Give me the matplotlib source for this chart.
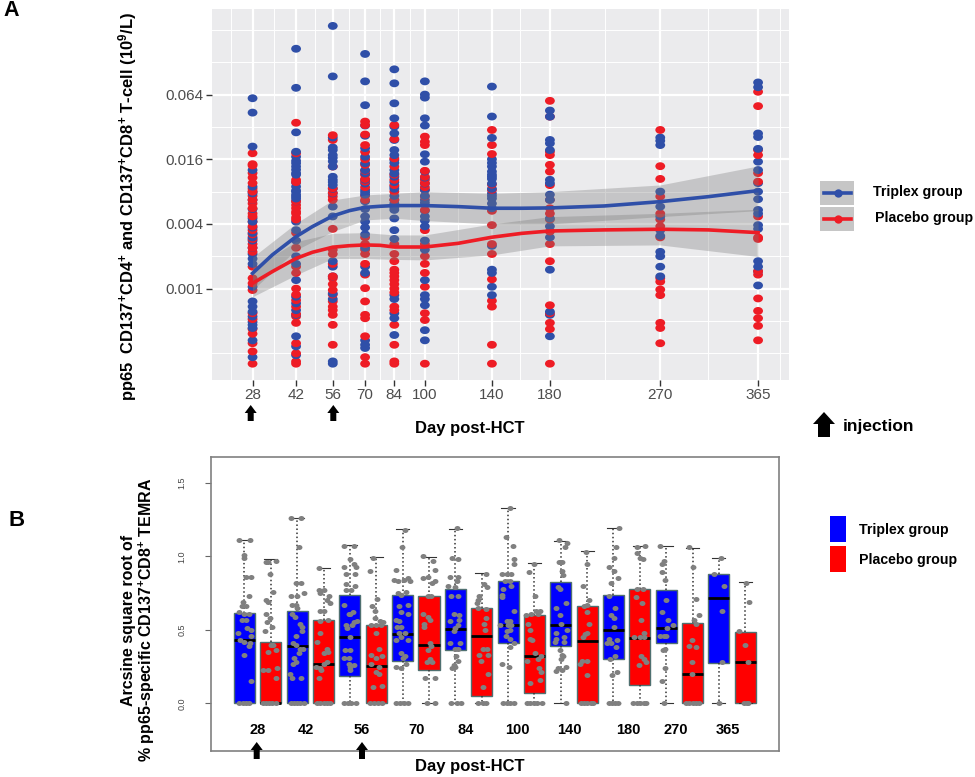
"""Two-panel figure: pp65 T-cell kinetics (A) and TEMRA boxplots (B)."""
import matplotlib
matplotlib.use("Agg")
import matplotlib.pyplot as plt
from matplotlib.markers import MarkerStyle
from matplotlib.patches import FancyArrow, Rectangle
from matplotlib.transforms import Affine2D
import numpy as np

plt.rcParams.update({
    "font.family": "Liberation Sans", "mathtext.fontset": "custom",
    "mathtext.bf": "Liberation Sans:bold", "mathtext.rm": "Liberation Sans:bold",
    "mathtext.default": "bf",
})
W, H = 975, 777
BLUE_A, RED_A = "#2F4FA8", "#EE1C25"
PANEL, RIBBON = "#EBEBED", "#7A7A7A"

# ---------------------------------------------------------------------------
# Panel A data
# ---------------------------------------------------------------------------
days = [28, 42, 56, 70, 84, 100, 140, 180, 270, 365]
minor_days = [22, 34.6, 48.8, 62.8, 76.9, 91.8, 119, 159, 222.8, 315, 388]
y_ticks = [0.001, 0.004, 0.016, 0.064]
y_minor = [0.00025, 0.0005, 0.002, 0.008, 0.032, 0.128, 0.256]

blue_pts = [
    [.0592, .0435, .021, .0127, .0089, .008, .0077, .0067, .0055, .0045, .0042, .0037, .0033, .003, .0028, .0024,
     .0021, .0019, .0017, .00104, .00076, .00068, .00061, .00055, .00049, .00046, .00043, .00033, .00023],
    [.171, .074, .0285, .0188, .0169, .0155, .0147, .0137, .0128, .0119, .0115, .0097, .0089, .0082, .008, .0075,
     .0072, .0069, .0065, .0042, .0035, .0028, .002, .0017, .0012, .00084, .00073, .00063, .00057, .00036,
     .00029, .00024],
    [.279, .0945, .0255, .0206, .0195, .0175, .0165, .0153, .0137, .011, .0103, .0098, .0092, .0085, .0077, .0058,
     .0047, .0018, .0016, .0013, .0009, .0008, .00021, .0002],
    [.153, .085, .051, .033, .0265, .0203, .0169, .0147, .0127, .0118, .0103, .0095, .0083, .0079, .0075, .0065,
     .0055, .0047, .0042, .0037, .0032, .0024, .0016, .0014, .00033, .0003, .00028],
    [.11, .0815, .0531, .0385, .0322, .0279, .0242, .0195, .0175, .0158, .0148, .0127, .0118, .011, .0098, .0089,
     .0085, .0073, .0067, .0062, .0057, .0054, .0045, .0035, .0029, .00087, .0008, .00059, .00053, .00037],
    [.085, .064, .06, .0385, .033, .0178, .0152, .0123, .0108, .0095, .0083, .0073, .0067, .0063, .0053, .0047,
     .0043, .0038, .0028, .0023, .0012, .00087, .0008, .0007, .00041, .00033],
    [.076, .04, .0253, .016, .0148, .0137, .0123, .0115, .011, .0105, .0095, .0085, .0077, .0073, .0069, .0062,
     .0056, .0025, .0015, .0014, .00104, .00087],
    [.0455, .0399, .0242, .0225, .0195, .0103, .0096, .0075, .0067, .0045, .0038, .003, .0015, .00061, .00057, .00036],
    [.0255, .0238, .0217, .008, .0058, .0047, .0035, .0031, .0022, .002, .0016, .0013],
    [.083, .075, .0278, .0258, .02, .0152, .0127, .0096, .008, .0068, .0054, .005, .0039, .0036, .0018,
     .0016, .00145, .00107],
]
red_pts = [
    [.0182, .0144, .014, .0119, .0108, .0096, .0085, .008, .0073, .0067, .0062, .0056, .005, .0047, .0042, .0038,
     .0035, .0032, .0029, .0026, .0024, .0022, .0016, .00125, .00112, .00097, .00059, .00052, .00042, .00038,
     .00031, .00026, .0002],
    [.035, .0182, .0103, .0098, .0065, .006, .0056, .0052, .005, .0046, .0044, .0033, .0024, .0016, .0014, .001,
     .00088, .00078, .00068, .00058, .00055, .00048, .00031, .00025, .00021, .0002],
    [.0268, .0242, .0137, .0086, .0078, .0072, .0067, .0036, .0023, .0021, .0017, .0013, .00125, .0011, .00097,
     .00088, .00076, .00068, .00063, .00057, .00046, .0003],
    [.0359, .0333, .0272, .0217, .0188, .016, .0142, .0125, .0114, .0105, .0099, .0088, .0073, .0067, .003, .0026,
     .0023, .0021, .0017, .00135, .00101, .00076, .00057, .00053, .00036, .00023, .0002],
    [.0333, .0247, .0163, .0137, .0115, .0103, .0092, .008, .0067, .0026, .0021, .0018, .0015, .0014, .0013, .0012,
     .0011, .001, .00092, .00068, .00063, .00046, .0003, .00021, .0002],
    [.026, .0233, .0217, .0125, .011, .0103, .0096, .0088, .0083, .0072, .0054, .0035, .0026, .002, .0017, .0014,
     .00104, .00059, .00051, .0002],
    [.03, .0217, .0179, .0093, .0083, .0053, .0039, .0026, .0021, .00122, .00077, .00068, .0003, .0002],
    [.056, .0399, .0188, .0175, .0142, .0123, .0092, .0067, .0056, .005, .0044, .0034, .0026, .0018, .0007,
     .00059, .00048, .00042, .0002],
    [.03, .0138, .0105, .0072, .005, .0044, .0038, .003, .00125, .00116, .00098, .00087, .00048, .00043, .00031],
    [.068, .05, .0195, .0175, .0119, .0099, .0047, .003, .0029, .00145, .00135, .00081, .00062, .00053, .00045, .00033],
]

line_days = [28, 34, 42, 48, 56, 63, 70, 77, 84, 92, 100, 119, 140, 160, 180, 222, 270, 315, 365]
blue_line = [.00139, .00206, .00305, .00378, .00475, .00532, .00571, .00584, .00593, .00593, .00593, .0058,
             .0056, .0056, .00564, .00588, .00645, .00718, .00817]
red_line = [.00112, .00144, .00191, .00218, .00243, .00251, .00255, .00253, .00244, .00244, .00244, .00264,
            .00301, .00327, .00344, .00352, .00357, .00352, .00332]
blue_up = [.00196, .00406, .00669, .00745, .00771, .008, .00771, .008, .00923, .01387]
blue_lo = [.00097, .00229, .0034, .00436, .00452, .0043, .004, .004, .00468, .00532]
red_up = [.00155, .00274, .00327, .00332, .00316, .00316, .004, .00468, .00502, .00548]
red_lo = [.00084, .00134, .00191, .00191, .00187, .00185, .00206, .0025, .00255, .00199]

# ---------------------------------------------------------------------------
# Panel B data (20 boxes, Triplex / Placebo alternating)
# ---------------------------------------------------------------------------
box_q3 = [.612, .42, .63, .564, .736, .533, .736, .732, .777, .648, .832, .603, .825, .659, .736, .775, .77, .548, .881, .485]
box_med = [.43, 0, .39, .27, .449, .252, .471, .40, .508, .46, .533, .322, .535, .424, .499, .446, .512, .197, .716, .279]
box_q1 = [0, 0, 0, 0, .188, 0, .29, .224, .363, .052, .412, .068, .387, 0, .304, .127, .408, 0, .272, 0]
box_top = [1.108, .98, 1.26, .918, 1.076, .992, 1.183, .997, 1.185, .886, 1.33, .954, 1.106, 1.033, 1.194, 1.07, 1.067, 1.056, .99, .823]
b_ticks = [0, 0.5, 1.0, 1.5]
b_labels = ["28", "42", "56", "70", "84", "100", "140", "180", "270", "365"]
b_label_pos = [1.51, 3.33, 5.45, 7.54, 9.39, 11.34, 13.31, 15.56, 17.37, 19.34]

jit_off = [
    [-.19, .22, 0, -.03, .06, .23, .18, -.04, -.10, .04, -.19, -.01, .18, -.10, .06, .10, .24, -.23, .24, -.17, -.01, .22, .18, 0, .23, -.19, -.06, .06, .19],
    [-.18, .18, -.12, -.04, .10, -.18, -.09, -.18, -.03, -.14, .03, -.22, .01, .08, -.12, .21, -.28, -.09, .23, .21, -.3, -.18, -.06, .06, .2],
    [-.22, .14, .08, -.03, .14, -.24, .24, 0, -.18, -.03, 0, -.18, -.09, .10, .17, -.03, .17, -.15, -.03, .10, .23, .05, -.12, -.03, -.15, -.26, -.18, .14, -.25, -.12, 0, .12, .25],
    [-.18, -.17, 0, -.14, .22, .12, .24, -.14, .01, -.14, .18, -.12, -.23, .12, .18, .01, .12, -.27, -.14, -.08, .01, -.17, -.25, -.12, 0, .13, .24],
    [-.21, .14, -.01, -.22, .14, .24, -.14, .18, -.14, .21, -.14, .04, -.21, -.05, .10, .01, -.14, .14, .27, .08, -.12, .01, -.18, .01, -.21, -.05, -.05, .01, .17, -.01, -.21, -.08, .06, .24],
    [-.13, -.23, .03, -.18, -.05, -.03, .13, .26, -.19, 0, .19, 0, .10, -.19, 0, .23, -.19, .10, 0, .10, -.13, .23, -.25, -.1, .05, .2],
    [.08, -.01, -.27, -.31, -.18, .04, .21, .27, -.18, -.05, .12, -.15, .21, -.05, .21, -.24, -.12, -.21, -.05, .08, -.12, -.05, -.27, .21, -.05, .08, -.24, .01, .14, -.05, -.25, -.1, .05, .2],
    [-.24, .14, -.22, -.03, .21, .23, .10, -.03, .08, -.22, -.03, .04, -.18, -.18, .04, .08, -.03, .04, -.09, .10, -.15, .23, -.09, .23],
    [.06, -.13, .09, -.22, .09, .06, -.26, 0, -.17, .09, -.06, .13, -.19, .13, .09, 0, -.06, -.19, .17, 0, .09, .04, .09, 0, -.13, -.04, -.17, .06, .22],
    [.17, .08, .21, -.09, -.15, -.13, .17, -.18, .17, .10, .14, .04, .19, -.09, .23, -.03, .23, .04, -.15, .04, .17],
    [.06, -.06, .19, .23, .23, -.22, -.03, .10, -.13, .06, .10, -.19, -.22, -.22, .23, -.04, .09, -.32, 0, .13, .06, -.04, -.06, .06, .23, .06, -.23, .04, -.19, -.05, .08, .23],
    [-.01, -.21, .03, .05, .21, .12, -.33, -.14, -.17, -.23, -.18, -.08, .01, .24, .12, -.29, .18, .24, .22, -.17, -.27, -.15, -.03, .1, .27],
    [-.06, .24, .15, .06, -.06, .06, .09, -.10, -.04, .19, -.19, -.04, .22, -.17, -.01, -.23, -.17, .12, .12, -.04, .03, .09, -.01, .18, .06, -.17, -.10, .19],
    [-.04, -.01, -.17, .09, -.01, -.12, -.01, .09, .01, -.08, -.14, -.21, -.01, -.27, -.01, -.25, -.12, 0, .13, .24],
    [.22, .09, .03, -.17, .03, .18, -.10, -.17, .05, -.10, .03, .03, -.17, .15, -.23, -.10, .09, .06, -.14, .15, -.06, -.17, -.05, .07, .18],
    [.18, -.10, -.12, -.01, .12, -.10, .12, -.14, .09, .05, .15, -.21, .14, -.01, .05, .14, .22, -.05, -.27, -.12, .02, .15, .24],
    [-.22, -.09, -.15, -.15, -.03, 0, -.15, .27, .08, .04, -.22, -.09, .01, -.03, -.13, -.06, -.15, -.09],
    [-.14, 0, .14, .23, .04, .14, -.03, -.12, .12, -.01, -.01, -.24, -.12, 0, .12, .24],
    [.09, -.19, .18, .13, .10, 0],
    [.01, .13, -.22, 0, .12, -.05, .05, .12],
]
jit_val = [
    [1.11, 1.11, 1.01, .99, .86, .86, .73, .69, .66, .66, .62, .61, .61, .57, .57, .51, .50, .48, .46, .43, .42, .41, .39, .33, .15, 0, 0, 0, 0],
    [.96, .97, .96, .88, .76, .70, .69, .61, .58, .55, .52, .49, .40, .40, .35, .36, .23, .23, .24, .17, 0, 0, 0, 0, 0],
    [1.26, 1.26, 1.06, .82, .82, .73, .75, .73, .67, .67, .65, .61, .59, .54, .52, .46, .49, .41, .40, .37, .37, .34, .31, .28, .27, .20, .17, .17, 0, 0, 0, 0, 0],
    [.92, .77, .77, .75, .73, .70, .68, .63, .63, .56, .57, .48, .42, .37, .35, .34, .28, .25, .24, .23, .27, .17, 0, 0, 0, 0, 0],
    [1.07, 1.07, .98, .93, .95, .93, .88, .88, .81, .80, .77, .77, .67, .61, .62, .61, .53, .55, .56, .53, .51, .45, .36, .36, .31, .31, .27, .25, .26, .23, 0, 0, 0, 0],
    [.99, .90, .71, .66, .63, .58, .56, .55, .53, .53, .53, .48, .37, .33, .31, .32, .27, .25, .21, .20, .11, .12, 0, 0, 0, 0],
    [1.18, 1.06, .91, .84, .83, .84, .85, .83, .75, .74, .76, .66, .67, .62, .61, .57, .56, .52, .52, .48, .48, .45, .43, .43, .34, .32, .25, .31, .27, .24, 0, 0, 0, 0],
    [1.0, .97, .85, .86, .91, .83, .82, .73, .73, .61, .59, .57, .54, .52, .41, .39, .36, .30, .28, .28, .17, .17, 0, 0],
    [1.19, .99, .98, .86, .86, .83, .80, .79, .73, .73, .61, .60, .56, .57, .53, .51, .49, .41, .41, .37, .37, .32, .29, .25, .24, .26, 0, 0, 0],
    [.88, .81, .79, .73, .70, .65, .64, .68, .58, .54, .50, .37, .37, .33, .33, .29, .20, .11, 0, 0, 0],
    [1.33, 1.13, 1.07, .98, .95, .88, .88, .88, .83, .83, .80, .78, .74, .72, .63, .56, .56, .53, .53, .53, .50, .49, .46, .44, .41, .38, .27, .25, 0, 0, 0, 0],
    [.95, .89, .73, .63, .63, .61, .60, .61, .50, .54, .44, .43, .34, .32, .30, .29, .24, .21, .16, .14, 0, 0, 0, 0, 0],
    [1.11, 1.09, 1.06, .96, .96, .90, .87, .79, .78, .68, .65, .60, .50, .48, .54, .42, .44, .45, .42, .36, .33, .32, .30, .25, .23, .22, .24, 0],
    [1.03, .95, .80, .70, .67, .66, .62, .54, .48, .47, .45, .29, .29, .27, .19, 0, 0, 0, 0, 0],
    [1.19, 1.06, .99, .93, .90, .85, .82, .73, .65, .60, .58, .52, .44, .43, .41, .41, .38, .32, .30, .21, .19, 0, 0, 0, 0],
    [1.07, 1.06, 1.02, .99, .98, .78, .78, .72, .68, .57, .48, .45, .45, .45, .32, .30, .28, .26, 0, 0, 0, 0, 0],
    [1.07, .97, .95, .89, .84, .70, .62, .53, .57, .51, .46, .46, .46, .37, .36, .24, .15, 0],
    [1.06, .93, .71, .60, .57, .54, .43, .39, .38, .28, .20, 0, 0, 0, 0, 0],
    [.99, .88, .80, .63, .28, 0],
    [.82, .69, .49, .40, .28, 0, 0, 0],
]


def axes_px(fig, x0, y0, x1, y1):
    # axes from pixel box, y measured from the top
    return fig.add_axes([x0 / W, 1 - y1 / H, (x1 - x0) / W, (y1 - y0) / H])


fig = plt.figure(figsize=(W / 100, H / 100), dpi=100, facecolor="white")

# ---------------------------------------------------------------------------
# Panel A
# ---------------------------------------------------------------------------
ax = axes_px(fig, 212, 9, 789, 380)
ax.set_facecolor(PANEL)
ax.set_xscale("function", functions=(np.sqrt, np.square))
ax.set_yscale("log")
ax.set_xlim(17.5, 398)
ax.set_ylim(0.000141, 0.401)
for s in ax.spines.values():
    s.set_visible(False)
ax.set_xticks(days)
ax.set_xticklabels([str(d) for d in days], fontsize=11, color="#4D4D4D")
ax.set_xticks(minor_days, minor=True)
ax.set_yticks(y_ticks)
ax.set_yticklabels(["0.001", "0.004", "0.016", "0.064"], fontsize=11, color="#4D4D4D")
ax.set_yticks(y_minor, minor=True)
ax.yaxis.set_minor_formatter(plt.NullFormatter())
ax.xaxis.set_minor_formatter(plt.NullFormatter())
ax.tick_params(which="major", length=4, width=1, color="#333333", pad=2)
ax.tick_params(which="minor", length=0)
ax.grid(which="major", color="white", linewidth=1.6)
ax.grid(which="minor", color="white", linewidth=0.7)
ax.set_axisbelow(True)

dot = MarkerStyle("o", transform=Affine2D().scale(1.25, 1.0))
for d, b, r in zip(days, blue_pts, red_pts):
    # draw each column in value order so the two groups overlap in a mixed way
    vals = np.array(b + r)
    cols = np.array([BLUE_A] * len(b) + [RED_A] * len(r))
    order = np.argsort(vals)
    ax.scatter([d] * len(vals), vals[order], s=32, marker=dot, c=cols[order], linewidths=0, zorder=2)
ax.fill_between(days, blue_lo, blue_up, color=RIBBON, alpha=0.33, linewidth=0, zorder=3)
ax.fill_between(days, red_lo, red_up, color=RIBBON, alpha=0.33, linewidth=0, zorder=3)
ax.plot(line_days, blue_line, color=BLUE_A, linewidth=2.6, zorder=4)
ax.plot(line_days, red_line, color=RED_A, linewidth=2.6, zorder=4)

# ---------------------------------------------------------------------------
# Panel B
# ---------------------------------------------------------------------------
bx = axes_px(fig, 210.7, 457, 779, 750.7)
stats = [dict(med=m, q1=a, q3=c, whislo=0, whishi=t)
         for m, a, c, t in zip(box_med, box_q1, box_q3, box_top)]
pos = np.arange(1, len(stats) + 1)
parts = bx.bxp(stats, positions=pos, widths=0.8, patch_artist=True, showfliers=False,
               manage_ticks=False, capwidths=0.5,
               boxprops=dict(edgecolor="#4F7070", linewidth=1.0),
               medianprops=dict(color="black", linewidth=2.0, solid_capstyle="butt"),
               whiskerprops=dict(color="#333333", linestyle=":", linewidth=1.1),
               capprops=dict(color="#333333", linewidth=0.8))
for i, patch in enumerate(parts["boxes"]):
    patch.set_facecolor("#0000FF" if i % 2 == 0 else "#FF0000")
small = MarkerStyle("o", transform=Affine2D().scale(1.18, 1.0))
for p, off, val in zip(pos, jit_off, jit_val):
    bx.scatter(p + np.array(off), val, s=13, marker=small, color="#808080", linewidths=0, zorder=5)
bx.set_xlim(-0.282, 21.28)
bx.set_ylim(-0.322, 1.675)
bx.set_xticks([])
bx.set_yticks(b_ticks)
bx.set_yticklabels(["0.0", "0.5", "1.0", "1.5"], fontsize=6.5, rotation=90, va="center", color="#444444")
bx.tick_params(axis="y", length=4.5, width=0.8, color="#666666", pad=13)
for s in bx.spines.values():
    s.set_color("#808080")
    s.set_linewidth(1.2)
for x, t in zip(b_label_pos, b_labels):
    bx.text(x, -0.18, t, ha="center", va="center", fontsize=10.5, fontweight="bold")

# ---------------------------------------------------------------------------
# Overlay in pixel units: letters, axis titles, legends, arrows
# ---------------------------------------------------------------------------
ov = fig.add_axes([0, 0, 1, 1], zorder=10)
ov.set_xlim(0, W)
ov.set_ylim(H, 0)
ov.axis("off")
ov.patch.set_alpha(0)


def label(x, y, s, fs=12, ha="left", rot=0):
    ov.text(x, y, s, fontsize=fs, fontweight="bold", ha=ha, va="center", rotation=rot)


def up_arrow(x, y_tail, y_tip, stem, head, head_len):
    ov.add_patch(FancyArrow(x, y_tail, 0, y_tip - y_tail, width=stem, head_width=head,
                            head_length=head_len, length_includes_head=True,
                            color="black", linewidth=0))


label(3, 11, "A", fs=15.5)
label(8, 520, "B", fs=16)
label(128, 207, "pp65  CD137$^{+}$CD4$^{+}$ and CD137$^{+}$CD8$^{+}$ T-cell (10$^{9}$/L)",
      fs=11.85, ha="center", rot=90)
label(470, 428, "Day post-HCT", ha="center")
label(843, 427, "injection", fs=12.5)
label(128, 620, "Arcsine square root of", fs=11.5, ha="center", rot=90)
label(147, 620, "% pp65-specific CD137$^{+}$CD8$^{+}$ TEMRA", fs=11.5, ha="center", rot=90)
label(470, 766, "Day post-HCT", ha="center")

for x in (250.7, 333.3):
    up_arrow(x, 421, 405, 6, 12, 8)
for x in (256.7, 362):
    up_arrow(x, 759, 742, 6, 12, 8)
up_arrow(824, 437, 412, 12, 22, 12)

# legend A
for y0, c, t, tx in ((180.7, BLUE_A, "Triplex group", 873), (206.7, RED_A, "Placebo group", 875)):
    ov.add_patch(Rectangle((820, y0), 34, 24.6, color="#C6C6C6", linewidth=0))
    ov.plot([824, 851], [y0 + 12.5] * 2, color=c, linewidth=2.6)
    ov.plot([837.5], [y0 + 12.5], "o", color=c, markersize=6, markeredgewidth=0)
    label(tx, y0 + 11.5, t, fs=10.2)

# legend B
for y0, c, t in ((516, "#0000FF", "Triplex group"), (546, "#FF0000", "Placebo group")):
    ov.add_patch(Rectangle((830, y0), 16, 26.3, color=c, linewidth=0))
    label(858.8, y0 + 14, t, fs=10.2)

fig.savefig("out.png", dpi=100)
plt.close(fig)
